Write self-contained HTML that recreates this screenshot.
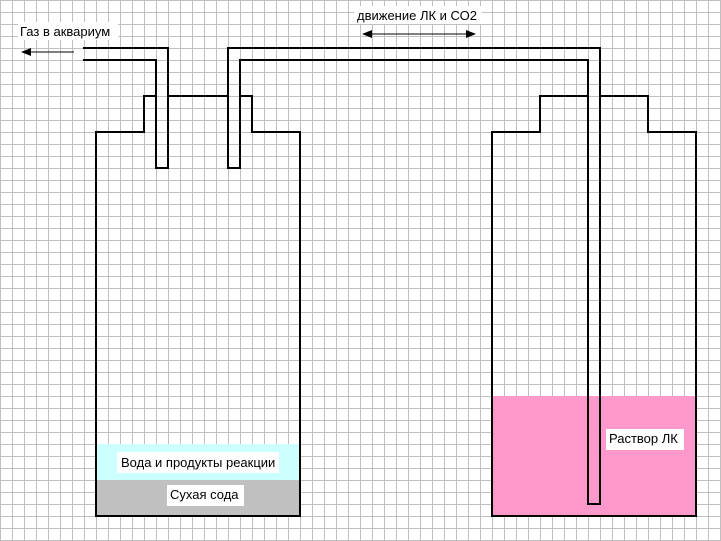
<!DOCTYPE html>
<html><head><meta charset="utf-8"><style>
html,body{margin:0;padding:0;background:#fff}
svg{display:block}
text{font-family:"Liberation Sans",Arial,sans-serif;font-size:13px;fill:#000}
</style></head><body>
<svg width="721" height="541" viewBox="0 0 721 541" xmlns="http://www.w3.org/2000/svg">
<defs>
<pattern id="g" width="12" height="12" patternUnits="userSpaceOnUse">
<path d="M0 0.5H12M0.5 0V12" stroke="#c0c0c0" stroke-width="1" fill="none"/>
</pattern>
<marker id="ah" markerWidth="10" markerHeight="8" refX="9" refY="4" orient="auto-start-reverse" markerUnits="userSpaceOnUse">
<path d="M0 0L10 4L0 8Z" fill="#000"/>
</marker>
</defs>
<rect width="721" height="541" fill="#fff"/>
<rect width="721" height="541" fill="url(#g)"/>
<rect x="97" y="444" width="202" height="36" fill="#ccffff"/>
<rect x="97" y="480" width="202" height="36" fill="#c0c0c0"/>
<rect x="493" y="396" width="202" height="120" fill="#ff99cc"/>
<rect x="18" y="22" width="100" height="18" fill="#fff"/>
<rect x="354" y="6" width="128" height="18" fill="#fff"/>
<rect x="117" y="452" width="162" height="21" fill="#fff"/>
<rect x="167" y="485" width="77" height="21" fill="#fff"/>
<rect x="606" y="429" width="78" height="21" fill="#fff"/>
<g stroke="#000" stroke-width="2" fill="none" stroke-linecap="square">
<polyline points="144,96 144,132 96,132 96,516 300,516 300,132 252,132 252,96 240,96"/>
<line x1="144" y1="96" x2="156" y2="96"/>
<line x1="168" y1="96" x2="228" y2="96"/>
<polyline points="84,48 168,48 168,168 156,168 156,60 84,60"/>
<polyline points="228,168 228,48 600,48 600,504 588,504 588,60 240,60 240,168 228,168"/>
<polyline points="588,96 540,96 540,132 492,132 492,516 696,516 696,132 648,132 648,96 600,96"/>
</g>
<g stroke="#000" stroke-width="1">
<line x1="74" y1="52" x2="22" y2="52" marker-end="url(#ah)"/>
<line x1="363" y1="34" x2="475" y2="34" marker-start="url(#ah)" marker-end="url(#ah)"/>
</g>
<text x="20" y="36">Газ в аквариум</text>
<text x="357" y="20">движение ЛК и СО2</text>
<text x="121" y="467">Вода и продукты реакции</text>
<text x="170" y="499">Сухая сода</text>
<text x="609" y="443">Раствор ЛК</text>
</svg>
</body></html>
